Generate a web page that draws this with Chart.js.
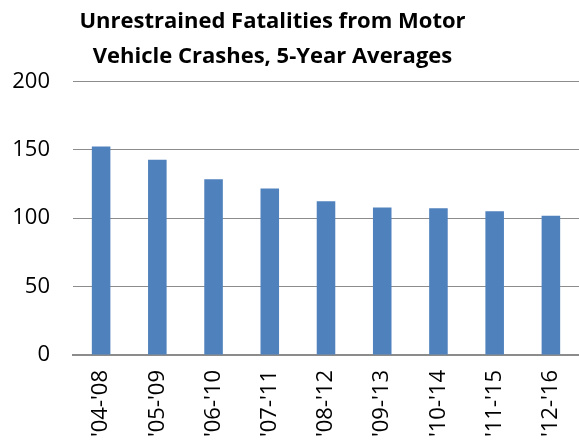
<!DOCTYPE html>
<html>
<head>
<meta charset="utf-8">
<script src="https://cdn.jsdelivr.net/npm/chart.js@4"></script>
<style>
  html, body { margin: 0; padding: 0; background: #fff; }
  #wrap { width: 579px; height: 447px; }
</style>
</head>
<body>
<div id="wrap"><canvas id="grafico" width="579" height="447"></canvas></div>
<script>
// datos
var periodos = ["'04-'08", "'05-'09", "'06-'10", "'07-'11", "'08-'12", "'09-'13", "'10-'14", "'11-'15", "'12-'16"];
var muertes = [152.5, 142.8, 128.5, 121.7, 112.4, 107.8, 107.3, 105.1, 101.7];
var tituloLineas = ["Unrestrained Fatalities from Motor", "Vehicle Crashes, 5-Year Averages"];
var ejeY = { min: 0, max: 200, paso: 50 };

var ctx = document.getElementById("grafico").getContext("2d");

// el titulo original esta un poco a la izquierda del centro
var moverTitulo = {
    id: "moverTitulo",
    afterLayout: function (chart) {
        if (chart.titleBlock) {
            chart.titleBlock.right -= 34;
        }
    }
};

var grafico = new Chart(ctx, {
    type: "bar",
    data: {
        labels: periodos,
        datasets: [{
            data: muertes,
            backgroundColor: "#4F81BD",
            borderWidth: 0,
            barPercentage: 0.33,
            categoryPercentage: 1
        }]
    },
    options: {
        responsive: false,
        animation: false,
        layout: { padding: 0 },
        plugins: {
            legend: { display: false },
            tooltip: { enabled: false },
            title: {
                display: true,
                text: tituloLineas,
                color: "#000",
                font: { family: "'Open Sans'", size: 22, weight: "bold", lineHeight: 1.6 },
                padding: { top: 4, bottom: 7 }
            }
        },
        scales: {
            x: {
                grid: { display: false, drawTicks: false },
                border: { display: true, color: "#8c8c8c", width: 2 },
                ticks: {
                    color: "#000",
                    font: { family: "'Open Sans'", size: 22 },
                    minRotation: 90,
                    maxRotation: 90,
                    padding: 15
                },
                afterFit: function (eje) {
                    // sin hueco a la derecha, altura fija para las etiquetas
                    eje.paddingLeft = 0;
                    eje.paddingRight = 0;
                    eje.height = 92;
                }
            },
            y: {
                min: ejeY.min,
                max: ejeY.max,
                grid: { color: "#8c8c8c", lineWidth: 1, drawTicks: false },
                border: { display: false },
                ticks: {
                    stepSize: ejeY.paso,
                    color: "#000",
                    font: { family: "'Open Sans'", size: 22 },
                    padding: 23
                },
                afterFit: function (eje) {
                    eje.width = 73;
                }
            }
        }
    },
    plugins: [moverTitulo]
});
</script>
</body>
</html>
